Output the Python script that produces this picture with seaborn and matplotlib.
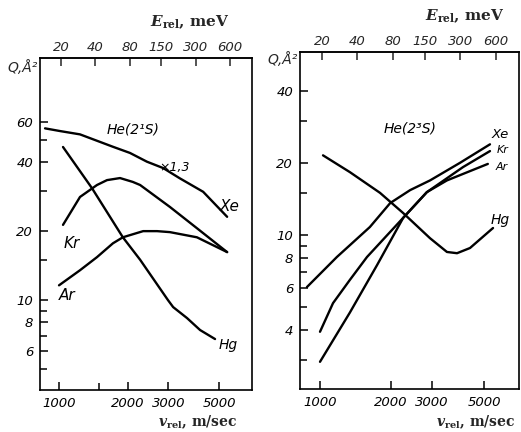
import numpy as np
import pandas as pd
import matplotlib
matplotlib.use("Agg")
import matplotlib.pyplot as plt
from matplotlib.ticker import FixedLocator, NullLocator, NullFormatter
import seaborn as sns

# ---- He(2^1S) cross sections, Q [A^2] vs relative velocity v [m/s] ----
s_xe_v = [869, 1010, 1235, 1720, 2040, 2420, 2850, 3370, 4260, 5420]
s_xe_q = [56.2, 54.7, 52.9, 46.7, 43.9, 40.2, 37.7, 34.0, 29.7, 23.1]   # x1.3
s_kr_v = [1041, 1235, 1465, 1620, 1847, 2100, 2260, 3050, 4000, 5420]
s_kr_q = [21.3, 28.2, 31.8, 33.4, 34.1, 32.8, 31.8, 25.5, 20.6, 16.2]
s_ar_v = [1000, 1235, 1465, 1720, 1900, 2330, 2680, 3050, 4000, 5420]
s_ar_q = [11.6, 13.5, 15.4, 17.7, 18.8, 20.0, 20.0, 19.8, 18.8, 16.2]
s_hg_v = [1041, 1393, 1900, 2260, 2990, 3150, 3620, 4130, 4800]
s_hg_q = [46.6, 30.8, 18.8, 15.0, 10.0, 9.32, 8.35, 7.40, 6.76]

# ---- He(2^3S) cross sections ----
t_xe_v = [880, 1180, 1630, 1990, 2420, 2940, 3940, 5290]
t_xe_q = [6.07, 8.1, 10.8, 13.6, 15.4, 16.9, 20.0, 23.9]
t_kr_v = [1000, 1136, 1340, 1585, 2260, 2850, 4060, 5290]
t_kr_q = [3.95, 5.2, 6.5, 8.1, 11.8, 15.1, 19.2, 22.4]
t_ar_v = [1000, 1340, 1750, 2260, 2850, 3470, 5180]
t_ar_q = [2.96, 4.75, 7.5, 11.8, 15.1, 16.9, 19.8]
t_hg_v = [1030, 1340, 1800, 2260, 2940, 3470, 3830, 4350, 5450]
t_hg_q = [21.5, 18.3, 15.0, 12.35, 9.7, 8.5, 8.4, 8.83, 10.7]

# ---- tick values ----
v_major = [1000, 2000, 3000, 5000]
v_major_labels = ["1000", "2000", "3000", "5000"]
e_ticks = [20, 40, 80, 150, 300, 600]
e_labels = ["20", "40", "80", "150", "300", "600"]
q_left_major = [6, 8, 10, 20, 40, 60]
q_left_minor = [5, 7, 9, 15, 30, 50]
q_right_major = [4, 6, 8, 10, 20, 40]
q_right_minor = [3, 5, 7, 9, 15, 30]


def frame(v, q, gas):
    return pd.DataFrame({"v": v, "Q": q, "gas": gas})


singlet = pd.concat([frame(s_xe_v, s_xe_q, "Xe"), frame(s_kr_v, s_kr_q, "Kr"),
                     frame(s_ar_v, s_ar_q, "Ar"), frame(s_hg_v, s_hg_q, "Hg")])
triplet = pd.concat([frame(t_xe_v, t_xe_q, "Xe"), frame(t_kr_v, t_kr_q, "Kr"),
                     frame(t_ar_v, t_ar_q, "Ar"), frame(t_hg_v, t_hg_q, "Hg")])

sns.set_style("ticks")
plt.rcParams["font.family"] = ["DejaVu Sans"]
plt.rcParams["mathtext.fontset"] = "dejavuserif"

W, H = 521, 432
fig = plt.figure(figsize=(W / 100, H / 100), dpi=100)


def px_axes(x0, y0, x1, y1):
    return fig.add_axes([x0 / W, 1 - y1 / H, (x1 - x0) / W, (y1 - y0) / H])


ax1 = px_axes(40, 58, 252, 390)
ax2 = px_axes(300, 52, 519, 389)


def v_to_e(v):
    return 20.0 * (np.asarray(v, dtype=float) / 1020.0) ** 2


def e_to_v(e):
    return 1020.0 * np.sqrt(np.clip(np.asarray(e, dtype=float), 1e-9, None) / 20.0)


tick_font = dict(fontsize=9.5, fontstyle="italic")


def style_axes(ax, data, xlim, ylim, qmaj, qmin, vminor):
    sns.lineplot(data=data, x="v", y="Q", units="gas", estimator=None,
                 color="black", lw=1.7, sort=False, ax=ax, legend=False)
    ax.set_xscale("log")
    ax.set_yscale("log")
    ax.set_xlim(*xlim)
    ax.set_ylim(*ylim)
    ax.set_xlabel("")
    ax.set_ylabel("")
    for sp in ax.spines.values():
        sp.set_visible(True)
        sp.set_linewidth(1.2)
        sp.set_color("black")
    ax.xaxis.set_major_locator(FixedLocator(v_major))
    ax.xaxis.set_minor_locator(FixedLocator(vminor))
    ax.xaxis.set_minor_formatter(NullFormatter())
    ax.set_xticklabels(v_major_labels, **tick_font)
    ax.yaxis.set_major_locator(FixedLocator(qmaj))
    ax.yaxis.set_minor_locator(FixedLocator(qmin))
    ax.yaxis.set_minor_formatter(NullFormatter())
    ax.set_yticklabels([str(q) for q in qmaj], **tick_font)
    ax.tick_params(which="both", direction="in", top=False, right=False,
                   width=1.1, color="black", labelcolor="black")
    ax.tick_params(which="major", length=6, pad=5)
    ax.tick_params(which="minor", length=5)
    sec = ax.secondary_xaxis("top", functions=(v_to_e, e_to_v))
    sec.xaxis.set_major_locator(FixedLocator(e_ticks))
    sec.xaxis.set_minor_locator(NullLocator())
    sec.set_xticks(e_ticks)
    sec.set_xticklabels(e_labels, **tick_font)
    sec.tick_params(direction="in", length=6, width=1.1, pad=3)
    sec.spines["top"].set_linewidth(1.2)


style_axes(ax1, singlet, (826, 6960), (4.05, 114), q_left_major, q_left_minor, [1500])
style_axes(ax2, triplet, (822, 7030), (2.28, 58), q_right_major, q_right_minor, [])

lbl = dict(fontsize=11, fontstyle="italic", ha="center", va="center", color="black")
title_lbl = dict(fontsize=10, fontstyle="italic", ha="center", va="center", color="black")
small = dict(fontstyle="italic", ha="center", va="center", color="black")
# singlet panel annotations
ax1.text(2100, 55.8, "He(2¹S)", **title_lbl)
ax1.text(3210, 38.1, "×1,3", fontsize=9, **small)
ax1.text(5570, 25.5, "Xe", **lbl)
ax1.text(1140, 17.7, "Kr", **lbl)
ax1.text(1080, 10.5, "Ar", **lbl)
ax1.text(5470, 6.36, "Hg", fontsize=10, **small)
# triplet panel annotations
ax2.text(2420, 27.9, "He(2³S)", **title_lbl)
ax2.text(5840, 26.3, "Xe", fontsize=9.5, **small)
ax2.text(5960, 22.6, "Kr", fontsize=8, **small)
ax2.text(5960, 19.2, "Ar", fontsize=8, **small)
ax2.text(5840, 11.55, "Hg", fontsize=10, **small)

# axis titles
for x, y in [(23, 68), (283, 60)]:
    fig.text(x / W, 1 - y / H, "Q,Å²", fontsize=10, fontstyle="italic",
             ha="center", va="center")
for x, y in [(190, 22), (465, 16)]:
    fig.text(x / W, 1 - y / H, r"$\boldsymbol{E}_{\mathbf{rel}}$, meV",
             fontsize=11, fontweight="bold", family="DejaVu Serif",
             ha="center", va="center")
for x, y in [(198, 422), (476, 422)]:
    fig.text(x / W, 1 - y / H, r"$\boldsymbol{v}_{\mathbf{rel}}$, m/sec",
             fontsize=10, fontweight="bold", family="DejaVu Serif",
             ha="center", va="center")

fig.savefig("out.png", dpi=100)
